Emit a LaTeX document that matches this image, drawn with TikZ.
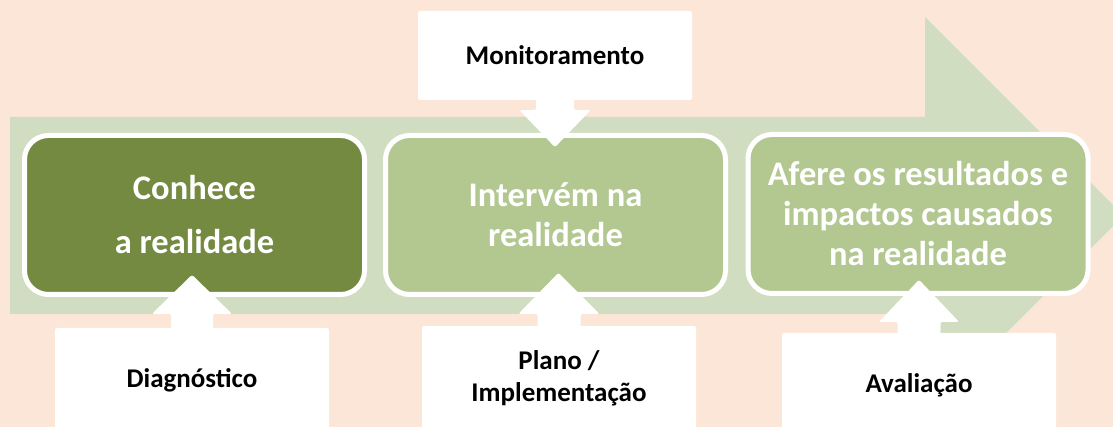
\documentclass[tikz,border=0pt]{standalone}
\usepackage{fontspec}
\setmainfont{Carlito}
\usetikzlibrary{calc}
\definecolor{bgc}{HTML}{FBE6D8}
\definecolor{arrowc}{HTML}{D1DDC0}
\definecolor{darkg}{HTML}{738A40}
\definecolor{lightg}{HTML}{B3C890}
\begin{document}
\begin{tikzpicture}[x=1pt,y=-1pt,
  bigbox/.style={draw=white, line width=5pt, rounded corners=24pt, minimum width=340pt, minimum height=159pt, inner sep=0pt, text=white, align=center, font=\fontsize{34.5}{40}\selectfont\bfseries},
  lblbox/.style={fill=white, rounded corners=2pt, minimum width=274pt, minimum height=104pt, inner sep=0pt, align=center, text=black, font=\fontsize{27}{32}\selectfont\bfseries},
  blk/.style={fill=white, rounded corners=1.5pt}]
\fill[bgc] (0,0) rectangle (1113,427);
\useasboundingbox (0,0) rectangle (1113,427);
% big background arrow
\fill[arrowc] (10,117) -- (925,117) -- (925,17) -- (1123.5,215.5) -- (925,414) -- (925,314) -- (10,314) -- cycle;
% main boxes
\node[bigbox, fill=darkg, font=\fontsize{34.5}{54}\selectfont\bfseries] (b1) at (194.5,215) {Conhece\\a realidade};
\node[bigbox, fill=lightg] (b2) at (555.5,215) {Intervém na\\realidade};
\node[bigbox, fill=lightg] (b3) at (918,214) {Afere os resultados e\\impactos causados\\na realidade};
% label boxes
\node[lblbox, minimum height=89pt] (mon) at (555,55.5) {Monitoramento};
\node[lblbox] (diag) at (192,380) {Diagnóstico};
\node[lblbox] (plano) at (559,378) {Plano /\\Implementação};
\node[lblbox] (aval) at (919,385) {Avaliação};
% block arrows
\fill[blk, shift={(mon.south)}] (-19,-1) -- (-19,10) -- (-35.5,10) -- (0,47) -- (35.5,10) -- (19,10) -- (19,-1) -- cycle;
\fill[blk, shift={(diag.north)}] (-21,1) -- (-21,-14) -- (-40,-14) -- (0,-53) -- (40,-14) -- (21,-14) -- (21,1) -- cycle;
\fill[blk, shift={(plano.north)}] (-21.5,1) -- (-21.5,-12) -- (-40.5,-12) -- (-0.5,-53) -- (40.5,-12) -- (21.5,-12) -- (21.5,1) -- cycle;
\fill[blk, shift={(aval.north)}] (-21.5,1) -- (-21.5,-11) -- (-40,-11) -- (0,-53) -- (40,-11) -- (21.5,-11) -- (21.5,1) -- cycle;
\end{tikzpicture}
\end{document}
